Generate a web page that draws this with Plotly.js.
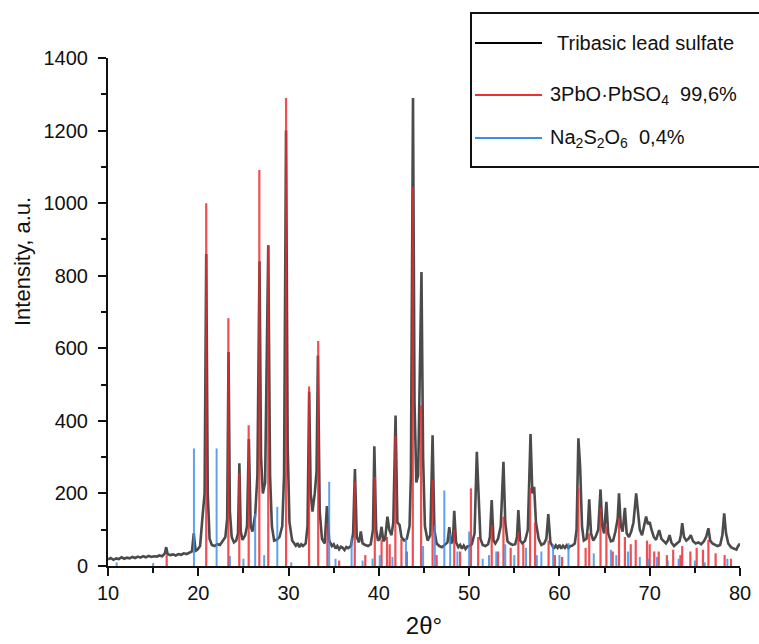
<!DOCTYPE html>
<html>
<head>
<meta charset="utf-8">
<script src="https://cdn.plot.ly/plotly-3.0.1.min.js"></script>
<style>
html,body{margin:0;padding:0;background:#fff;}
#chart{width:759px;height:644px;}
</style>
</head>
<body>
<div id="chart"></div>
<script>
// Measured pattern: Tribasic lead sulfate (2θ, intensity)
const patternX = [
10.0,10.3,10.6,10.9,11.2,11.5,11.8,12.1,12.4,12.7,13.0,13.3,13.6,13.9,14.2,14.5,14.8,15.1,15.4,15.7,
16.0,16.3,16.45,16.6,16.9,17.2,17.5,17.8,18.1,18.4,18.7,19.0,19.3,19.5,19.7,19.9,20.2,20.5,20.7,20.88,
21.05,21.25,21.5,21.8,22.1,22.4,22.7,23.0,23.2,23.35,23.5,23.7,23.95,24.2,24.4,24.55,24.7,24.9,25.2,25.4,
25.6,25.8,26.0,26.3,26.55,26.78,26.95,27.15,27.4,27.75,27.95,28.15,28.4,28.7,29.0,29.3,29.5,29.72,29.9,30.1,
30.4,30.6,30.8,31.0,31.2,31.4,31.6,31.9,32.1,32.28,32.45,32.65,32.9,33.1,33.25,33.45,33.7,34.0,34.25,34.5,
34.8,35.0,35.2,35.4,35.6,35.8,36.0,36.2,36.4,36.6,36.9,37.15,37.35,37.55,37.8,38.0,38.2,38.5,38.8,39.1,
39.35,39.5,39.7,39.9,40.1,40.3,40.5,40.7,40.95,41.15,41.4,41.6,41.85,42.05,42.3,42.5,42.8,43.1,43.4,43.55,
43.78,43.95,44.15,44.35,44.55,44.72,44.9,45.1,45.4,45.7,45.95,46.15,46.4,46.7,47.0,47.3,47.6,47.8,48.0,48.2,
48.35,48.55,48.8,49.0,49.2,49.4,49.6,49.8,50.0,50.3,50.6,50.85,51.05,51.25,51.5,51.8,52.1,52.3,52.5,52.7,
52.9,53.2,53.5,53.8,54.0,54.25,54.5,54.8,55.1,55.3,55.45,55.65,55.9,56.2,56.5,56.8,57.0,57.2,57.4,57.7,
58.0,58.3,58.55,58.77,59.0,59.2,59.4,59.6,59.8,60.0,60.2,60.4,60.6,60.8,61.0,61.2,61.4,61.7,61.9,62.1,
62.3,62.5,62.7,63.0,63.15,63.3,63.5,63.75,64.0,64.3,64.55,64.75,64.95,65.2,65.4,65.7,65.95,66.2,66.45,66.6,
66.8,67.0,67.25,67.45,67.7,67.95,68.2,68.5,68.7,68.9,69.15,69.4,69.6,69.8,70.0,70.2,70.45,70.7,70.9,71.05,
71.3,71.55,71.8,72.0,72.2,72.4,72.7,73.0,73.3,73.45,73.6,73.8,74.05,74.3,74.55,74.8,75.1,75.4,75.7,76.0,
76.25,76.5,76.7,76.95,77.2,77.5,77.8,78.05,78.25,78.45,78.7,79.0,79.3,79.6,79.8,80.0
];
const patternY = [
18,22,17,21,19,24,20,23,21,25,22,26,23,27,24,28,25,27,26,29,
27,35,52,33,30,32,29,33,31,35,33,37,40,90,42,45,55,145,200,860,
200,75,58,55,60,58,68,80,130,590,150,80,65,70,90,283,95,72,85,110,
350,110,95,140,250,840,300,200,230,884,250,110,70,72,80,110,250,1200,330,120,
70,62,56,63,52,60,55,62,110,480,200,150,200,260,580,150,75,62,165,70,
55,60,48,55,46,53,50,44,52,49,55,90,267,80,65,95,62,58,55,60,
100,330,100,70,75,108,68,75,136,100,85,120,415,120,113,80,70,75,110,250,
1290,450,230,250,500,810,300,110,70,85,360,100,62,55,52,58,65,107,62,70,
152,65,52,58,48,56,47,54,55,60,90,315,200,75,58,55,60,80,182,70,
62,75,110,287,120,68,62,58,60,80,154,70,62,70,100,364,200,218,120,75,
58,62,75,143,65,55,48,57,50,58,48,56,50,57,49,55,56,62,100,352,
270,110,70,75,110,184,90,70,80,100,211,110,90,177,90,68,70,95,130,200,
110,95,160,90,80,95,120,200,150,100,85,110,136,115,121,100,80,72,85,99,
75,68,62,70,85,65,55,62,68,85,118,80,70,75,85,68,62,65,60,68,
80,104,70,62,58,55,58,85,145,90,62,52,48,45,55,62
];

// Reference stick pattern: 3PbO·PbSO4
const leadPos = [16.5,20.88,23.33,24.54,25.58,26.76,27.75,29.72,32.27,33.28,34.3,35.6,37.33,38.5,39.55,40.3,40.9,41.2,41.83,42.5,
43.1,43.76,44.68,45.95,46.4,48.35,49.0,50.2,51.0,52.5,53.2,53.8,54.6,55.45,56.0,56.75,57.3,58.8,59.5,60.3,
62.1,62.9,63.3,64.55,65.2,65.9,66.6,67.25,67.9,68.45,69.7,70.0,70.5,71.0,71.9,72.6,73.4,73.6,74.5,75.2,
75.9,76.5,77.3,78.3,79.0];
const leadInt = [30,1000,683,256,388,1091,884,1290,495,620,118,15,232,30,245,72,80,60,358,75,
40,1045,443,237,30,100,40,214,80,113,40,136,50,95,60,215,120,70,30,25,
214,50,90,160,110,40,132,80,60,72,70,60,40,40,30,45,30,55,40,50,
45,72,35,30,20];

// Reference stick pattern: Na2S2O6
const sodiumPos = [10.96,15.0,19.52,22.03,23.5,25.0,26.3,27.3,28.75,30.3,34.5,35.2,36.98,38.2,39.3,40.1,41.5,43.0,44.9,46.2,
47.25,47.9,48.7,50.0,51.5,52.2,53.0,54.0,55.0,56.3,57.5,58.0,59.3,60.0,61.0,63.8,65.7,66.3,67.6,68.9,
69.9,70.8,72.0,73.2,75.0,76.1,78.6];
const sodiumInt = [10,8,324,324,28,20,145,30,163,10,232,20,77,15,20,30,25,77,55,113,
208,90,40,95,20,30,40,60,30,50,30,40,60,30,63,35,45,30,40,25,
20,25,15,20,15,10,20];

const xTickVals = [10,20,30,40,50,60,70,80];
const yTickVals = [0,200,400,600,800,1000,1200,1400];

function sticks(pos, val){
  const x = [], y = [];
  for (let i = 0; i < pos.length; i++){
    x.push(pos[i], pos[i], null);
    y.push(0, val[i], null);
  }
  return {x, y};
}

const leadSticks = sticks(leadPos, leadInt);
const sodiumSticks = sticks(sodiumPos, sodiumInt);

const FONT = "Liberation Sans, Arial, sans-serif";

const traces = [
  {x: patternX, y: patternY, type: 'scatter', mode: 'lines',
   line: {color: 'rgba(55,55,55,0.9)', width: 2.6}, name: 'Tribasic lead sulfate', showlegend: false, hoverinfo: 'skip'},
  {x: leadSticks.x, y: leadSticks.y, type: 'scatter', mode: 'lines', connectgaps: false,
   line: {color: 'rgba(236,40,46,0.82)', width: 2.2}, name: '3PbO·PbSO4 99,6%', showlegend: false, hoverinfo: 'skip'},
  {x: sodiumSticks.x, y: sodiumSticks.y, type: 'scatter', mode: 'lines', connectgaps: false,
   line: {color: 'rgba(58,140,232,0.82)', width: 2}, name: 'Na2S2O6 0,4%', showlegend: false, hoverinfo: 'skip'}
];

// plot area: x 108..740, y 58..566
const px = v => (v - 108) / 632;
const py = v => (566 - v) / 508;

const legendRows = [
  {y: 43, color: '#000000', tx: 555, text: 'Tribasic lead sulfate'},
  {y: 95, color: '#f03030', tx: 548, text: '3PbO·PbSO<sub>4</sub>\u00a0\u00a099,6%'},
  {y: 138, color: '#3a8ee6', tx: 548, text: 'Na<sub>2</sub>S<sub>2</sub>O<sub>6</sub>\u00a0\u00a00,4%'}
];

const shapes = [
  {type: 'rect', xref: 'paper', yref: 'paper', x0: px(471), x1: px(800), y0: py(167), y1: py(13),
   line: {color: '#111', width: 2}, fillcolor: 'rgba(255,255,255,0)'}
];
const annotations = [
  {xref: 'paper', yref: 'paper', x: px(22), y: py(262), text: 'Intensity, a.u.', textangle: -90,
   showarrow: false, xanchor: 'center', yanchor: 'middle', font: {family: FONT, size: 22, color: '#111'}}
];
legendRows.forEach(r => {
  shapes.push({type: 'line', xref: 'paper', yref: 'paper', x0: px(475), x1: px(542), y0: py(r.y), y1: py(r.y),
    line: {color: r.color, width: 2}});
  annotations.push({xref: 'paper', yref: 'paper', x: px(r.tx), y: py(r.y), text: r.text, showarrow: false,
    xanchor: 'left', yanchor: 'middle', font: {family: FONT, size: 20, color: '#111'}});
});

const layout = {
  width: 759, height: 644,
  margin: {l: 108, r: 19, t: 58, b: 78},
  paper_bgcolor: '#fff', plot_bgcolor: '#fff',
  showlegend: false,
  font: {family: FONT, color: '#111'},
  xaxis: {
    range: [10, 80], tickvals: xTickVals, ticktext: xTickVals.map(String),
    showgrid: false, zeroline: false, showline: true, linecolor: '#111', linewidth: 2,
    ticks: 'outside', ticklen: 8, tickwidth: 2, tickcolor: '#111',
    minor: {dtick: 5, tick0: 0, ticks: 'outside', ticklen: 5, tickwidth: 2, tickcolor: '#111', showgrid: false},
    tickfont: {family: FONT, size: 20, color: '#111'},
    title: {text: '2θ°', font: {family: FONT, size: 24, color: '#111'}, standoff: 14},
    automargin: false
  },
  yaxis: {
    range: [0, 1400], tickvals: yTickVals, ticktext: yTickVals.map(String),
    showgrid: false, zeroline: false, showline: true, linecolor: '#111', linewidth: 2,
    ticks: 'outside', ticklen: 8, tickwidth: 2, tickcolor: '#111',
    minor: {dtick: 100, tick0: 0, ticks: 'outside', ticklen: 5, tickwidth: 2, tickcolor: '#111', showgrid: false},
    tickfont: {family: FONT, size: 20, color: '#111'},
    ticklabelstandoff: 6,
    automargin: false
  },
  shapes: shapes,
  annotations: annotations
};

Plotly.newPlot('chart', traces, layout, {displayModeBar: false, staticPlot: true});
</script>
</body>
</html>
